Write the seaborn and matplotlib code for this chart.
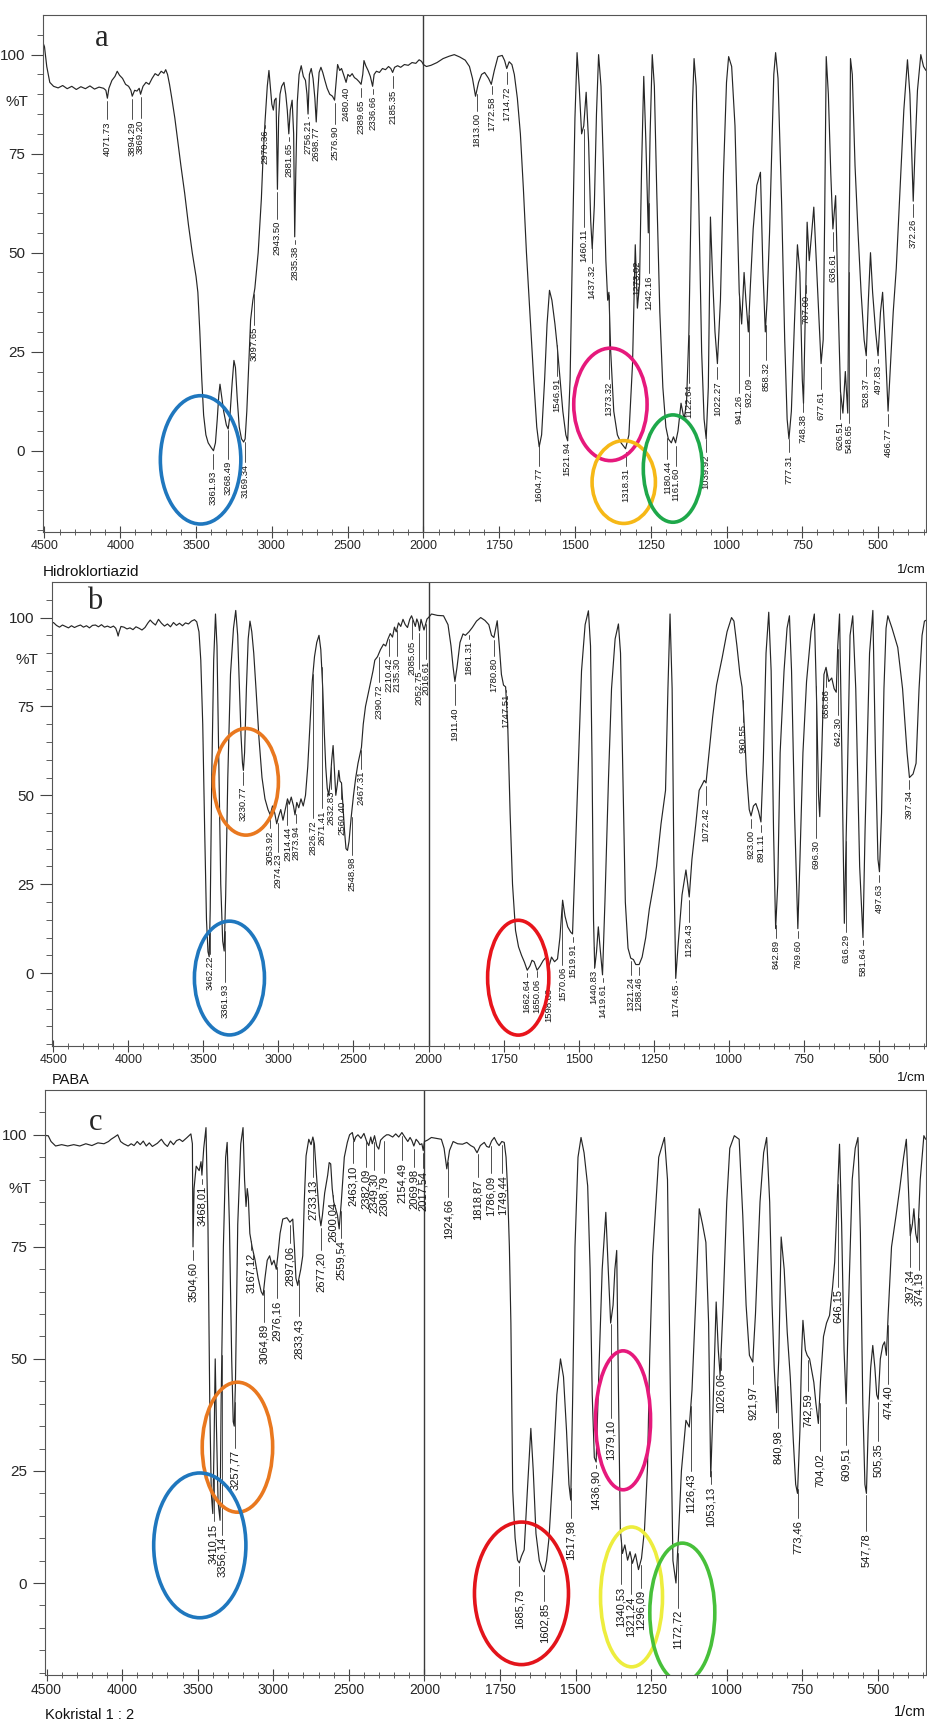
import numpy as np
import pandas as pd
import matplotlib
matplotlib.use('Agg')
import matplotlib.pyplot as plt
import matplotlib.transforms as mtransforms
from matplotlib.patches import Ellipse
from matplotlib.ticker import FixedLocator
import seaborn as sns

sns.set_style('ticks')
plt.rcParams['font.family'] = ['Liberation Sans', 'DejaVu Sans']

# ============================================================
# Spectra (wavenumber 1/cm, %T)
# ============================================================
SPEC_A = [
    (4510, 103), (4500, 102), (4485, 97), (4465, 93), (4440, 92), (4410, 91.6), (4380, 92.2),
    (4350, 91.4), (4320, 92), (4290, 91.2), (4260, 91.9), (4230, 91.4), (4200, 92.1), (4170, 91.3),
    (4140, 91.8), (4110, 91.5), (4095, 91), (4085, 89), (4075, 91.5), (4055, 93.5), (4035, 94.5),
    (4020, 95.8), (4005, 94.8), (3985, 94), (3965, 92.5), (3945, 92), (3930, 91), (3921, 89.5),
    (3905, 91), (3890, 90.8), (3875, 91.5), (3866, 90), (3850, 92), (3830, 93), (3810, 92.5),
    (3790, 94), (3770, 95.2), (3750, 94.7), (3730, 95.8), (3712, 95.3), (3700, 96.2), (3688, 95),
    (3675, 92.5), (3660, 89), (3640, 84), (3620, 78), (3600, 72), (3575, 65), (3550, 57), (3525, 50),
    (3500, 44), (3488, 40), (3475, 30), (3462, 18), (3450, 9), (3435, 4), (3420, 2), (3400, 0.8),
    (3385, 0), (3372, 2), (3360, 8), (3350, 14), (3342, 16.8), (3332, 14), (3318, 10), (3300, 6.5),
    (3288, 5.5), (3276, 9), (3262, 17), (3250, 22.8), (3240, 21), (3228, 13), (3215, 6), (3200, 3),
    (3186, 2.2), (3176, 3), (3165, 10), (3152, 22), (3140, 33), (3125, 38), (3112, 41), (3100, 46),
    (3090, 50), (3078, 58), (3069, 63.6), (3058, 74), (3045, 83), (3030, 92), (3019, 96), (3010, 92),
    (3000, 87.5), (2990, 86), (2982, 88.5), (2972, 89), (2963, 66), (2955, 84), (2946, 90), (2935, 92),
    (2920, 93), (2908, 90), (2898, 86), (2888, 80), (2878, 86), (2866, 88.5), (2856, 80), (2849, 54),
    (2842, 70), (2832, 88), (2820, 95), (2806, 97.2), (2792, 94.5), (2778, 93.5), (2768, 90),
    (2761, 85), (2752, 95), (2740, 96.5), (2728, 94), (2716, 89), (2707, 83), (2698, 90), (2688, 95.5),
    (2676, 96.8), (2664, 95.5), (2650, 93.5), (2635, 91.5), (2618, 90), (2600, 89.5), (2586, 88.5),
    (2576, 93), (2566, 97.5), (2552, 96), (2540, 96.5), (2525, 94.8), (2510, 93), (2498, 95),
    (2485, 94.5), (2470, 95.2), (2455, 94.2), (2440, 93.8), (2425, 93.2), (2411, 92.5), (2400, 95),
    (2392, 98.5), (2380, 97.2), (2365, 96), (2350, 94.5), (2335, 92), (2325, 95), (2310, 95.8),
    (2290, 95.5), (2270, 96.5), (2250, 96.2), (2230, 97), (2215, 96.5), (2203, 95.5), (2190, 96.8),
    (2170, 97.2), (2150, 96.8), (2125, 97.5), (2100, 97.3), (2075, 98), (2050, 97.8), (2028, 98.7),
    (2012, 98.3), (2000, 97.5),
    (1990, 97), (1975, 97.3), (1955, 98), (1935, 99), (1915, 99.6), (1898, 100), (1880, 99.4),
    (1862, 98.6), (1848, 97), (1838, 94), (1828, 89.5), (1818, 93), (1808, 95), (1798, 95.5),
    (1785, 94), (1776, 92.5), (1766, 96), (1754, 99.5), (1740, 99.8), (1732, 98.5), (1725, 96.5),
    (1717, 98.2), (1708, 97.5), (1700, 95), (1690, 89), (1680, 80), (1670, 66), (1660, 50), (1648, 34),
    (1636, 18), (1626, 6), (1618, 1), (1610, 4), (1600, 18), (1592, 32), (1584, 40.5), (1576, 38),
    (1566, 32), (1558, 26), (1550, 19), (1540, 10), (1530, 4), (1524, 2.5), (1516, 18), (1508, 52),
    (1500, 84), (1493, 100.5), (1486, 92), (1478, 80), (1471, 82), (1463, 90.5), (1455, 78), (1448, 58),
    (1443, 51), (1436, 62), (1429, 85), (1422, 100), (1414, 92), (1406, 72), (1398, 48), (1392, 38),
    (1388, 40), (1382, 25), (1372, 10), (1360, 4), (1348, 2), (1333, 0.5), (1322, 4), (1310, 22),
    (1301, 52), (1294, 36), (1287, 42), (1280, 72), (1273, 94.5), (1266, 78), (1258, 55), (1252, 80),
    (1245, 100), (1238, 92), (1230, 65), (1220, 35), (1210, 16), (1200, 6), (1192, 3), (1182, 2),
    (1175, 3.5), (1168, 2), (1160, 5), (1150, 12), (1140, 8), (1132, 12), (1124, 30), (1117, 62),
    (1112, 88), (1107, 99), (1100, 92), (1092, 65), (1082, 25), (1074, 8), (1067, 3), (1060, 16),
    (1053, 59), (1046, 44), (1038, 30), (1030, 22), (1020, 38), (1010, 70), (1000, 93), (993, 99.5),
    (983, 97), (972, 82), (964, 58), (958, 40), (950, 32), (942, 45), (936, 38), (928, 30), (921, 42),
    (912, 56), (900, 67), (888, 70.3), (880, 46), (872, 30), (866, 38), (858, 55), (850, 78), (844, 95),
    (838, 100.5), (830, 94), (818, 62), (808, 28), (800, 8), (794, 3), (786, 10), (776, 32), (766, 52),
    (758, 45), (750, 18), (746, 12), (740, 35), (734, 57.7), (727, 48), (719, 55), (712, 61.5),
    (704, 48), (696, 35), (688, 22), (681, 28), (676, 60), (671, 99.5), (664, 90), (656, 70), (649, 56),
    (640, 64.4), (632, 38), (624, 15), (616, 9.5), (608, 20), (600, 9.5), (595, 55), (591, 99),
    (585, 95), (576, 72), (566, 55), (556, 40), (546, 28), (539, 24), (532, 38), (525, 50), (518, 40),
    (508, 30), (500, 24), (492, 35), (485, 40), (477, 28), (467, 10), (459, 22), (450, 35), (440, 46),
    (428, 65), (415, 86), (403, 98.7), (395, 90), (389, 75), (384, 63), (378, 76), (370, 91),
    (359, 100), (350, 97), (342, 96),
]

SPEC_B = [
    (4510, 98.5), (4500, 98.6), (4480, 97.8), (4460, 97.3), (4440, 97.9), (4420, 97.5), (4400, 97.1),
    (4380, 97.7), (4360, 97.2), (4340, 97.6), (4320, 97.9), (4300, 97.3), (4280, 97.7), (4260, 97.1),
    (4240, 97.8), (4220, 97.9), (4200, 97.4), (4180, 98), (4160, 97.3), (4140, 97.6), (4120, 97.2),
    (4100, 97.6), (4085, 97), (4075, 95.8), (4069, 94.8), (4062, 96), (4050, 97.5), (4030, 97.3),
    (4010, 96.8), (3990, 97.1), (3970, 96.6), (3950, 97.4), (3930, 97), (3910, 96.5), (3890, 97.2),
    (3870, 98.5), (3855, 99.3), (3840, 98.6), (3820, 97.9), (3800, 99.5), (3780, 98.4), (3760, 97.6),
    (3740, 98.2), (3720, 97.4), (3700, 98.6), (3680, 97.8), (3660, 98.4), (3640, 97.7), (3620, 98.5),
    (3600, 98.2), (3580, 99), (3560, 99.4), (3545, 98.8), (3530, 96), (3518, 88), (3505, 70),
    (3492, 40), (3480, 15), (3470, 6), (3462, 4.6), (3455, 18), (3445, 55), (3432, 88), (3420, 101),
    (3410, 92), (3398, 60), (3385, 25), (3372, 9), (3362, 6.2), (3352, 22), (3338, 55), (3320, 84),
    (3300, 97), (3285, 102), (3272, 95), (3260, 80), (3250, 67), (3240, 59), (3234, 57), (3226, 62),
    (3214, 80), (3202, 94), (3190, 99), (3178, 96), (3165, 90), (3150, 80), (3130, 66), (3110, 55),
    (3090, 49), (3070, 46), (3055, 44.5), (3040, 47), (3025, 45), (3012, 42), (3000, 44), (2985, 46),
    (2970, 43), (2955, 46), (2940, 49), (2928, 47.5), (2915, 49.5), (2900, 47), (2890, 44.5),
    (2878, 48), (2865, 46.5), (2850, 49), (2835, 47), (2820, 50), (2805, 58), (2790, 70), (2775, 82),
    (2760, 89), (2745, 93), (2730, 95), (2718, 91), (2705, 80), (2695, 68), (2685, 58), (2675, 52),
    (2665, 50), (2655, 54), (2645, 60), (2636, 64), (2628, 58), (2618, 50), (2608, 53), (2598, 57),
    (2590, 54), (2580, 53.5), (2570, 47), (2560, 40), (2550, 35), (2540, 34.5), (2530, 37), (2515, 44),
    (2500, 50), (2485, 55), (2470, 59), (2455, 62), (2447, 63.5), (2435, 70), (2420, 75), (2400, 79),
    (2385, 82), (2370, 85), (2358, 88), (2340, 89), (2320, 91), (2300, 92.5), (2285, 92), (2270, 94),
    (2255, 95.5), (2240, 94.5), (2227, 97.3), (2215, 96), (2200, 98.5), (2185, 97.5), (2170, 99.5),
    (2155, 98), (2140, 97.2), (2125, 99.5), (2113, 100.5), (2100, 99), (2088, 97.5), (2078, 99.6),
    (2068, 98.5), (2060, 96.3), (2050, 99.5), (2040, 98), (2030, 96.5), (2020, 98), (2010, 99.6),
    (2000, 100),
    (1990, 101), (1970, 100.6), (1950, 100.5), (1935, 98), (1925, 92), (1918, 86), (1912, 82),
    (1905, 86), (1895, 93), (1885, 95.4), (1877, 95), (1865, 96), (1854, 97.2), (1840, 99), (1826, 100),
    (1812, 99.2), (1799, 98), (1790, 95), (1782, 94.4), (1776, 97), (1771, 99.1), (1764, 92),
    (1757, 84), (1750, 81), (1743, 80.5), (1736, 70), (1728, 45), (1720, 25), (1710, 12), (1700, 7.4),
    (1690, 5), (1680, 3), (1671, 0.8), (1662, 2), (1655, 3.6), (1648, 3.2), (1638, 0.8), (1628, 2),
    (1618, 3.5), (1608, 4.5), (1598, 2), (1590, 4.5), (1580, 3.2), (1570, 4), (1562, 10),
    (1553, 20.5), (1545, 16), (1536, 13), (1526, 11.5), (1520, 11), (1512, 30), (1500, 60),
    (1490, 85), (1478, 98), (1467, 101.9), (1460, 92), (1455, 60), (1450, 15), (1446, 1.5),
    (1440, 6), (1434, 13), (1428, 7), (1420, -0.5), (1412, 20), (1400, 55), (1390, 80), (1378, 94),
    (1367, 98.2), (1360, 90), (1352, 55), (1344, 20), (1335, 7), (1326, 4.2), (1317, 3.8),
    (1309, 2.4), (1298, 2.4), (1288, 4.5), (1276, 10), (1264, 18), (1253, 23.3), (1240, 30),
    (1225, 42), (1210, 51.4), (1202, 80), (1195, 101), (1188, 80), (1182, 30), (1176, -1.5),
    (1168, 8), (1155, 22), (1142, 29), (1136, 25), (1131, 21.4), (1122, 32), (1109, 42),
    (1098, 51.4), (1088, 53), (1081, 54.2), (1075, 53.5), (1065, 62), (1053, 72), (1040, 81),
    (1021, 88.8), (1005, 96), (990, 100), (982, 99), (972, 92), (962, 84), (955, 80.5), (949, 72),
    (940, 56), (931, 46), (925, 44.2), (917, 47), (909, 47.7), (900, 45.5), (892, 42.5), (884, 60),
    (875, 90), (866, 101.5), (858, 85), (850, 40), (843, 12.5), (836, 25), (828, 62), (815, 85),
    (805, 97), (797, 100.5), (790, 85), (780, 45), (769, 12.5), (762, 32), (752, 62), (740, 82),
    (725, 96), (714, 101), (706, 75), (700, 50), (696, 44), (690, 60), (682, 84), (675, 86),
    (666, 82), (656, 83), (648, 80), (641, 79), (636, 92), (630, 101), (622, 60), (614, 14),
    (605, 50), (595, 95), (586, 100.5), (576, 80), (563, 30), (552, 10), (545, 40), (530, 90),
    (519, 102), (510, 60), (502, 32), (497, 28.5), (490, 45), (482, 80), (475, 97), (469, 100.5),
    (455, 97), (436, 91.6), (420, 80), (405, 62), (397, 55), (385, 56), (375, 59), (365, 80),
    (355, 95), (347, 99), (335, 99.5),
]

SPEC_C = [
    (4510, 100), (4500, 99.8), (4489, 99.8), (4470, 98.5), (4440, 97.5), (4400, 97.8), (4360, 97.5),
    (4320, 97.8), (4280, 97.5), (4240, 98), (4200, 97.6), (4160, 98.2), (4120, 98), (4090, 98.5),
    (4073, 99), (4050, 99.5), (4029, 100), (4010, 98.5), (3990, 98), (3960, 97.5), (3940, 98),
    (3921, 97.6), (3900, 98.5), (3880, 97.8), (3860, 98.6), (3840, 97.5), (3820, 98.2), (3800, 97.4),
    (3767, 98.1), (3740, 99), (3720, 98), (3700, 97.4), (3680, 98.6), (3660, 97.8), (3640, 98.7),
    (3620, 99), (3600, 98.5), (3570, 99.4), (3545, 100.2), (3535, 98), (3531, 75), (3524, 88),
    (3510, 93), (3490, 92), (3478, 94), (3472, 91), (3460, 97), (3445, 101.6), (3432, 80),
    (3420, 40), (3410, 20), (3400, 15.5), (3392, 30), (3384, 50), (3376, 35), (3365, 18),
    (3352, 14), (3345, 40), (3330, 75), (3315, 95), (3305, 98.3), (3290, 80), (3275, 50),
    (3265, 36), (3258, 35), (3250, 45), (3235, 80), (3215, 98), (3200, 101.6), (3190, 90),
    (3180, 84), (3172, 88), (3165, 86), (3155, 78), (3140, 75), (3120, 72), (3100, 68), (3080, 65),
    (3067, 64.2), (3055, 68), (3040, 72), (3024, 73), (3010, 71), (2995, 72), (2980, 70), (2970, 73),
    (2955, 78), (2937, 81.2), (2910, 81.5), (2890, 80.5), (2871, 81.2), (2860, 75), (2850, 68),
    (2838, 66.4), (2830, 68), (2818, 70), (2805, 73), (2795, 85), (2783, 95.3), (2765, 99),
    (2750, 97.8), (2738, 99.5), (2728, 98), (2718, 93), (2708, 88), (2695, 82), (2685, 79.7),
    (2675, 82), (2660, 87), (2640, 91), (2630, 93.8), (2620, 93.5), (2610, 88), (2600, 85),
    (2587, 83.5), (2575, 82), (2564, 79), (2550, 85), (2530, 95), (2510, 98.3), (2495, 100),
    (2477, 100.5), (2465, 98.5), (2455, 99.5), (2440, 100), (2420, 99.2), (2400, 100.3), (2382, 98.5),
    (2368, 97.6), (2355, 99.5), (2345, 98), (2330, 99.8), (2315, 97.5), (2302, 96.8), (2290, 98.8),
    (2270, 99.5), (2250, 100), (2236, 100), (2210, 99.5), (2190, 100.2), (2170, 99.5), (2149, 100.5),
    (2130, 99.5), (2110, 98.5), (2095, 99.4), (2083, 98.7), (2070, 97.5), (2055, 99), (2040, 98.4),
    (2030, 97.8), (2017, 98), (2008, 96.5), (2000, 98.5),
    (1990, 98.8), (1977, 99.4), (1960, 99.2), (1944, 99), (1935, 97), (1926, 92.4), (1917, 96.5),
    (1905, 98.5), (1890, 98), (1874, 97.9), (1860, 98.3), (1847, 97.6), (1836, 97.2), (1826, 96),
    (1815, 97.6), (1802, 98.3), (1794, 97.4), (1786, 97.2), (1778, 98.6), (1769, 99.4), (1760, 98.2),
    (1753, 97.6), (1744, 98.5), (1736, 98.3), (1730, 95), (1725, 88), (1719, 75), (1714, 58),
    (1708, 20.7), (1700, 10), (1692, 5.1), (1686, 4.5), (1679, 6), (1670, 7.4), (1660, 20),
    (1648, 34.5), (1640, 25), (1631, 11), (1620, 5), (1610, 3), (1604, 2.5), (1596, 5), (1588, 10),
    (1575, 25), (1562, 42), (1550, 50), (1540, 46), (1530, 34), (1522, 22), (1516, 18.5), (1510, 40),
    (1502, 75), (1492, 95), (1482, 99.4), (1472, 96), (1460, 88.6), (1452, 70), (1445, 42),
    (1438, 28), (1432, 27), (1424, 45), (1412, 70), (1400, 82.7), (1392, 70), (1384, 58), (1376, 62),
    (1370, 70), (1364, 74.2), (1358, 42), (1352, 12), (1345, 6.6), (1337, 8.5), (1328, 5.1),
    (1320, 7), (1312, 4.4), (1302, 6.5), (1292, 3), (1282, 5.5), (1272, 12), (1262, 26), (1255, 50),
    (1245, 73), (1225, 95), (1206, 99.4), (1196, 90), (1186, 40), (1178, 5), (1168, 0), (1160, 10),
    (1150, 25), (1135, 36.3), (1124, 34.8), (1115, 43), (1102, 64), (1091, 83.5), (1080, 80),
    (1069, 76), (1060, 58), (1053, 23.7), (1045, 40), (1035, 62.7), (1028, 52), (1022, 46.3),
    (1012, 62), (1000, 85), (990, 97), (975, 99.8), (959, 99), (947, 82), (936, 62), (925, 50.8),
    (914, 49.3), (905, 60), (890, 85), (878, 96), (868, 99.4), (858, 85), (850, 62), (843, 48),
    (835, 38), (828, 50), (820, 77.2), (810, 70), (800, 56), (790, 46), (780, 32), (772, 22),
    (766, 20), (758, 34), (752, 52), (748, 58.6), (740, 52), (734, 50.8), (726, 50), (718, 47),
    (712, 44.8), (705, 40), (697, 35.6), (690, 45), (680, 55), (670, 58), (660, 59.7), (650, 66),
    (643, 71.6), (635, 85), (627, 97.9), (620, 80), (612, 52), (605, 40), (598, 60), (585, 90),
    (575, 97), (566, 99.4), (558, 78), (550, 40), (543, 22), (538, 20), (532, 35), (524, 48),
    (517, 53), (510, 48), (504, 42), (499, 41), (492, 50), (484, 53), (478, 53.8), (472, 50.8),
    (466, 60), (455, 75), (440, 82), (428, 87.9), (415, 95), (406, 99), (399, 88), (393, 77.5),
    (386, 80), (381, 83.5), (375, 78), (369, 76), (360, 90), (348, 99.8), (342, 99),
]

# peak labels: printed text, then where it sits (wavenumber, %T of text top)
PEAKS_A = ["4071.73", "3894.29", "3869.20", "3361.93", "3268.49", "3169.34", "3097.65", "2970.36",
           "2943.50", "2881.65", "2835.38", "2756.21", "2698.77", "2576.90", "2480.40", "2389.65",
           "2336.66", "2185.35", "1813.00", "1772.58", "1714.72", "1604.77", "1546.91", "1521.94",
           "1460.11", "1437.32", "1373.32", "1318.31", "1273.02", "1242.16", "1180.44", "1161.60",
           "1122.64", "1039.92", "1022.27", "941.26", "932.09", "858.32", "777.31", "748.38",
           "707.00", "677.61", "636.61", "626.51", "548.65", "528.37", "497.83", "466.77", "372.26"]
PEAK_POS_A = [(4085, 83.2), (3921, 83.2), (3866, 83.6), (3385, -5.1), (3286, -2.6), (3176, -3.4),
              (3115, 31.3), (3045, 81.1), (2963, 58.1), (2888, 77.8), (2849, 51.8), (2761, 83.6),
              (2707, 82), (2586, 82), (2510, 92), (2411, 88.7), (2335, 89.5), (2203, 91.2),
              (1824, 85.3), (1775, 89.5), (1725, 92), (1620, -4.3), (1560, 18.4), (1526, 2.4),
              (1471, 56), (1444, 47), (1388, 17.5), (1333, -4.3), (1295, 48), (1256, 44.3),
              (1195, -2.6), (1168, -4.3), (1124, 16.7), (1068, -0.9), (1030, 17.5), (958, 14.2),
              (925, 18.4), (870, 22.5), (795, -0.9), (748, 9.2), (738, 39.3), (688, 15), (649, 50),
              (624, 7.5), (596, 6.6), (539, 18.4), (500, 21.7), (467, 5.8), (384, 58.5)]

PEAKS_B = ["3462.22", "3361.93", "3230.77", "3053.92", "2974.23", "2914.44", "2873.94", "2826.72",
           "2671.41", "2632.83", "2560.40", "2548.98", "2467.31", "2390.72", "2210.42", "2135.30",
           "2085.05", "2052.75", "2016.61", "1911.40", "1861.31", "1780.80", "1747.51", "1662.64",
           "1650.06", "1598.00", "1570.06", "1519.91", "1440.83", "1419.61", "1321.24", "1288.46",
           "1174.65", "1126.43", "1072.42", "960.55", "923.00", "891.11", "842.89", "769.60",
           "696.30", "656.86", "642.30", "616.29", "581.64", "497.63", "397.34"]
PEAK_POS_B = [(3458, 5), (3358, -2.9), (3235, 52.5), (3058, 40.2), (3006, 33.6), (2940, 41.1),
              (2886, 41.6), (2769, 43), (2713, 45.8), (2647, 51.4), (2580, 48.6), (2513, 32.7),
              (2447, 57), (2332, 81.3), (2262, 88.8), (2208, 88.8), (2110, 93.5), (2061, 85),
              (2014, 87.9), (1912, 74.8), (1865, 93.5), (1782, 88.8), (1743, 78.5), (1671, -1.5),
              (1640, -1.5), (1598, -4), (1554, 1.8), (1520, 8.3), (1448, 0.8), (1420, -2.9),
              (1326, -1), (1298, -1), (1176, -2.9), (1131, 14), (1075, 46.7), (953, 70.1),
              (925, 40.2), (892, 39.2), (842, 9.3), (769, 9.3), (708, 37.4), (675, 80), (636, 72),
              (608, 11.1), (552, 7.4), (497, 25.2), (397, 51.4)]

PEAKS_C = ["3504,60", "3468,01", "3410,15", "3356,14", "3257,77", "3167,12", "3064,89", "2976,16",
           "2897,06", "2833,43", "2733,13", "2677,20", "2600,04", "2559,54", "2463,10", "2382,09",
           "2349,30", "2308,79", "2154,49", "2069,98", "2017,54", "1924,66", "1818,87", "1786,09",
           "1749,44", "1685,79", "1602,85", "1517,98", "1436,90", "1379,10", "1340,53", "1321,24",
           "1296,09", "1172,72", "1126,43", "1053,13", "1026,06", "921,97", "840,98", "773,46",
           "742,59", "704,02", "646,15", "609,51", "547,78", "505,35", "474,40", "397,34", "374,19"]
PEAK_POS_C = [(3531, 71.6), (3472, 88.6), (3395, 13.3), (3340, 10.3), (3253, 29.6), (3150, 73.8),
              (3061, 57.8), (2976, 63), (2892, 75.3), (2827, 59), (2739, 90.1), (2684, 73.8),
              (2608, 85), (2553, 76.4), (2470, 93.1), (2389, 92.4), (2335, 91.6), (2269, 90.9),
              (2149, 93.8), (2072, 92.4), (2007, 92), (1921, 85.7), (1823, 90.1), (1780, 90.9),
              (1742, 90.9), (1686, -1.2), (1604, -4.5), (1515, 14), (1433, 25.2), (1383, 36.3),
              (1350, -0.8), (1317, -3), (1285, -1.5), (1162, -6), (1118, 24.4), (1052, 21.5),
              (1019, 47), (914, 44), (831, 34), (765, 14), (732, 42.3), (693, 28.9), (632, 65.6),
              (605, 30.4), (539, 11.1), (500, 31.1), (467, 44), (395, 70.1), (365, 69.4)]

# coloured rings: centre wavenumber, centre %T, width (1/cm), height (%T), colour
RINGS_A = [(3470, -2.3, 531, 32.4, '#1f77be'), (1383, 11.7, 242, 28.4, '#e6197c'),
           (1339, -7.9, 209, 20.9, '#f6b817'), (1177, -4.5, 195, 27.1, '#1ea84a')]
RINGS_B = [(3217, 53.8, 433, 30, '#e9781f'), (3327, -1.4, 467, 32, '#1f77be'),
           (1701, -1.3, 204, 32.3, '#e8141b')]
RINGS_C = [(3237, 30.3, 466, 29, '#e9781f'), (3486, 8.4, 610, 32.3, '#1f77be'),
           (1679, -2.3, 311, 31.8, '#e3141b'), (1343, 36.3, 182, 31, '#e6197c'),
           (1315, -3.1, 205, 31.2, '#eded3e'), (1147, -6.6, 215, 31, '#47c03a')]

X_MAJOR = [4500, 4000, 3500, 3000, 2500, 2000, 1750, 1500, 1250, 1000, 750, 500]
Y_MAJOR = [0, 25, 50, 75, 100]


def fwd(x):
    x = np.asarray(x, dtype=float)
    return np.where(x > 2000, 2000 + (x - 2000) / 2.0, x)


def inv(u):
    u = np.asarray(u, dtype=float)
    return np.where(u > 2000, 2000 + (u - 2000) * 2.0, u)


def draw_panel(ax, spec, peaks, peak_pos, rings, tag, tag_xy, tag_fs, name, name_y,
               fs_peak, fs_xtick, fs_name):
    df = pd.DataFrame(spec, columns=['wn', 'T'])
    sns.lineplot(data=df, x='wn', y='T', ax=ax, color='#262626', lw=0.85,
                 estimator=None, sort=False)
    ax.set_xscale('function', functions=(fwd, inv))
    ax.set_xlim(4510, 342)
    ax.set_ylim(-20.5, 110)
    ax.set_xlabel('')
    ax.set_ylabel('')

    ax.axvline(2000, color='#3a3a3a', lw=1.0, zorder=1)

    ax.xaxis.set_major_locator(FixedLocator(X_MAJOR))
    minor = [v for v in range(4500, 2000, -100)] + [v for v in range(2000, 340, -50)]
    ax.xaxis.set_minor_locator(FixedLocator(minor))
    ax.set_xticklabels([str(v) for v in X_MAJOR], fontsize=fs_xtick)
    ax.tick_params(axis='x', which='major', direction='inout', length=8, width=0.8,
                   color='#444', pad=2)
    ax.tick_params(axis='x', which='minor', direction='inout', length=4, width=0.6, color='#444')

    ax.yaxis.set_major_locator(FixedLocator(Y_MAJOR))
    ax.yaxis.set_minor_locator(FixedLocator(list(range(-20, 110, 5))))
    ax.set_yticklabels([str(v) for v in Y_MAJOR], fontsize=11)
    ax.tick_params(axis='y', which='major', direction='out', length=9, width=0.8,
                   color='#444', pad=4)
    ax.tick_params(axis='y', which='minor', direction='out', length=4, width=0.6, color='#444')

    for sp in ax.spines.values():
        sp.set_color('#555555')
        sp.set_linewidth(0.8)

    blend = mtransforms.blended_transform_factory(ax.transAxes, ax.transData)
    ax.text(-0.016, 88, '%T', transform=blend, ha='right', va='center', fontsize=11)

    # peak labels with short leaders
    wn_rev = df['wn'].values[::-1]
    t_rev = df['T'].values[::-1]
    for txt, (xp, top) in zip(peaks, peak_pos):
        yv = np.interp(xp, wn_rev, t_rev)
        if yv - 0.8 > top + 0.5:
            ax.plot([xp, xp], [yv - 0.8, top + 0.5], color='#333333', lw=0.6)
        ax.text(xp, top, txt, rotation=90, ha='center', va='top', fontsize=fs_peak,
                color='#151515')

    for cx, cy, w, h, col in rings:
        ax.add_patch(Ellipse((cx, cy), w, h, fill=False, edgecolor=col, lw=2.6, zorder=5))

    ax.text(tag_xy[0], tag_xy[1], tag, transform=ax.transAxes, fontsize=tag_fs,
            family='Liberation Serif', ha='center', va='center')
    ax.text(0.0, name_y, name, transform=ax.transAxes, ha='left', va='center',
            fontsize=fs_name, color='#111111')
    ax.text(1.0, name_y + 0.004, '1/cm', transform=ax.transAxes, ha='right', va='center',
            fontsize=fs_xtick + 0.5, color='#111111')


fig = plt.figure(figsize=(9.28, 17.26), dpi=100)
ax_a = fig.add_axes([0.0463, 0.6918, 0.9515, 0.2995])
ax_b = fig.add_axes([0.0560, 0.3940, 0.9418, 0.2688])
ax_c = fig.add_axes([0.0485, 0.0296, 0.9490, 0.3389])

draw_panel(ax_a, SPEC_A, PEAKS_A, PEAK_POS_A, RINGS_A, 'a', (0.067, 0.955), 22,
           'Hidroklortiazid', -0.078, 6.8, 9, 11)
draw_panel(ax_b, SPEC_B, PEAKS_B, PEAK_POS_B, RINGS_B, 'b', (0.049, 0.957), 22,
           'PABA', -0.074, 6.8, 9, 10.5)
draw_panel(ax_c, SPEC_C, PEAKS_C, PEAK_POS_C, RINGS_C, 'c', (0.057, 0.945), 22,
           'Kokristal 1 : 2', -0.068, 8, 10, 10.5)

fig.savefig('out.png', dpi=100)
